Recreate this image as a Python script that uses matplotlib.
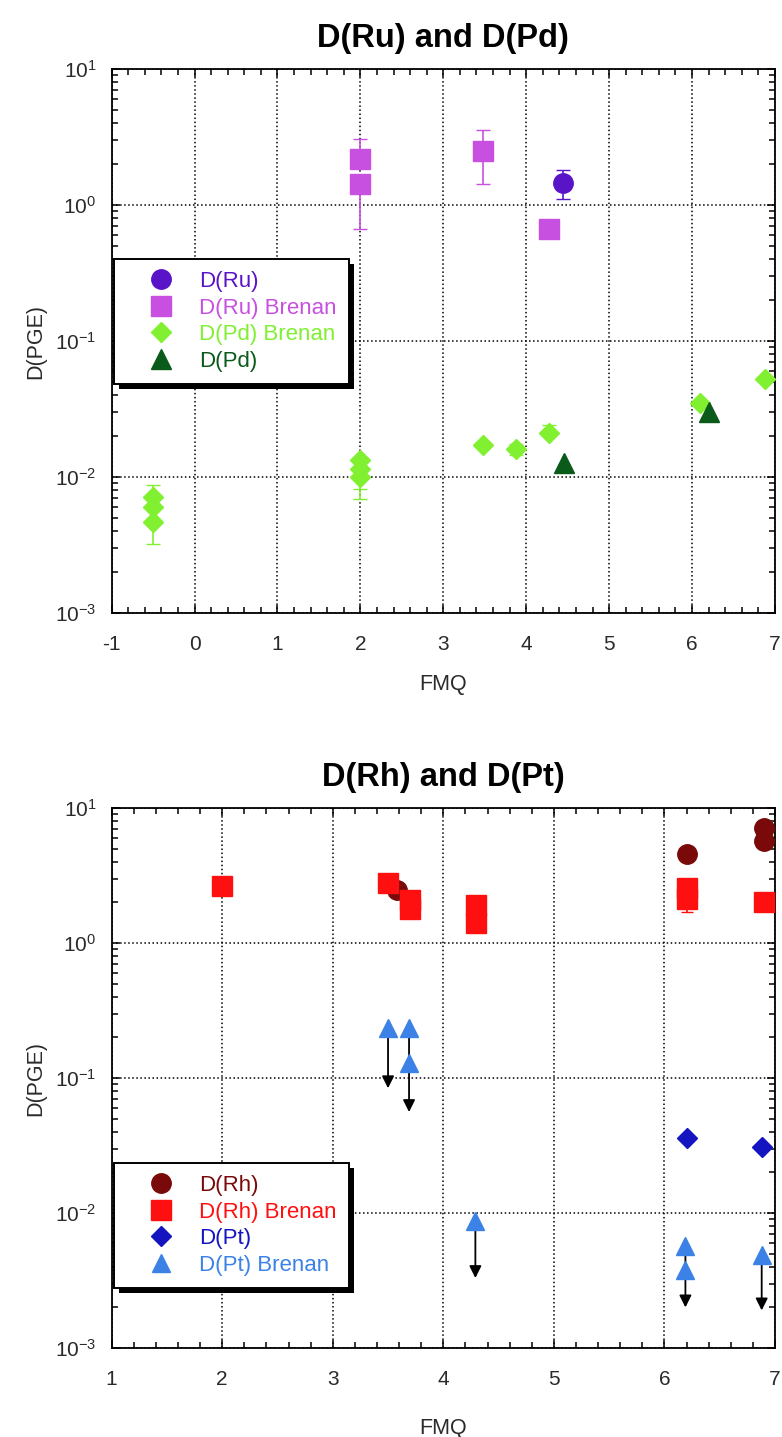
# D(PGE) vs FMQ, two log panels
import numpy as np
import matplotlib
matplotlib.use("Agg")
import matplotlib.pyplot as plt
from matplotlib.patches import Rectangle
from matplotlib.ticker import AutoMinorLocator, LogLocator

# ---- top panel: Ru and Pd ----
ru_fmq = [4.44]
ru_d = [1.44]
ru_lo = [1.11]
ru_hi = [1.80]

ru_br_fmq = [2.0, 2.0, 3.48, 4.28]
ru_br_d = [2.18, 1.42, 2.48, 0.67]
ru_br_lo = [2.18, 0.67, 1.42, 0.67]
ru_br_hi = [3.07, 1.42, 3.58, 0.67]

pd_br_fmq = [-0.5, -0.5, -0.5, 2.0, 2.0, 2.0, 3.48, 3.88, 4.28, 6.1, 6.88]
pd_br_d = [0.0071, 0.0060, 0.0047, 0.0133, 0.0115, 0.0100, 0.0171, 0.0161, 0.021, 0.035, 0.053]
pd_br_lo = [0.0071, 0.0060, 0.0032, 0.0133, 0.0081, 0.0069, 0.0171, 0.0145, 0.021, 0.035, 0.053]
pd_br_hi = [0.0088, 0.0060, 0.0047, 0.0133, 0.0115, 0.0100, 0.0171, 0.0175, 0.024, 0.035, 0.053]

pd_fmq = [4.45, 6.2]
pd_d = [0.0127, 0.030]

# ---- bottom panel: Rh and Pt ----
rh_fmq = [3.58, 6.2, 6.9, 6.9]
rh_d = [2.45, 4.6, 7.1, 5.7]

rh_br_fmq = [2.0, 3.5, 3.7, 3.7, 4.3, 4.3, 6.2, 6.2, 6.9]
rh_br_d = [2.65, 2.8, 2.1, 1.8, 1.91, 1.41, 2.54, 2.12, 2.0]
rh_br_lo = [2.65, 2.8, 2.1, 1.6, 1.91, 1.41, 2.54, 1.70, 2.0]

pt_fmq = [6.2, 6.88]
pt_d = [0.036, 0.031]

pt_br_fmq = [3.5, 3.69, 3.69, 4.29, 6.19, 6.19, 6.88]
pt_br_d = [0.236, 0.236, 0.13, 0.0088, 0.0057, 0.0038, 0.0049]

# upper limits (arrows down)
arr_fmq = [3.5, 3.69, 4.29, 6.19, 6.88]
arr_from = [0.236, 0.236, 0.0088, 0.0057, 0.0049]
arr_to = [0.084, 0.056, 0.0033, 0.0020, 0.0019]

c_ru = '#5A14C8'
c_ru_br = '#C850E0'
c_pd_br = '#80F030'
c_pd = '#0A5A1A'
c_rh = '#7A0A0A'
c_rh_br = '#FF1010'
c_pt = '#1414C0'
c_pt_br = '#3C82E6'

plt.rcParams['font.family'] = ['Liberation Sans', 'DejaVu Sans']
plt.rcParams['mathtext.default'] = 'regular'
plt.rcParams['axes.unicode_minus'] = False
txt = '#2a2a2a'

fig = plt.figure(figsize=(7.82, 14.37), dpi=100)
ax1 = fig.add_axes([0.1428, 0.5734, 0.8482, 0.3786])
ax2 = fig.add_axes([0.1428, 0.0619, 0.8482, 0.3758])


def style(ax, xmin, xmax, title, xlpad):
    ax.set_yscale('log')
    ax.set_xlim(xmin, xmax)
    ax.set_ylim(1e-3, 1e1)
    ax.set_xticks(np.arange(xmin, xmax + 1))
    ax.xaxis.set_minor_locator(AutoMinorLocator(5))
    ax.yaxis.set_major_locator(LogLocator(base=10, numticks=10))
    ax.yaxis.set_minor_locator(LogLocator(base=10, subs=np.arange(2, 10), numticks=20))
    ax.tick_params(which='both', direction='in', top=True, right=True,
                   labelsize=15, labelcolor=txt, width=1.1)
    ax.tick_params(which='major', length=6)
    ax.tick_params(axis='x', which='major', pad=16)
    ax.tick_params(axis='y', which='major', pad=11)
    ax.tick_params(which='minor', length=4)
    ax.grid(True, which='major', color='black', linestyle=':', linewidth=1.1)
    for s in ax.spines.values():
        s.set_linewidth(1.3)
    ax.set_xlabel('FMQ', fontsize=15.5, color=txt, labelpad=xlpad)
    ax.set_ylabel('D(PGE)', fontsize=15.5, color=txt, labelpad=6)
    ax.set_title(title, fontsize=23.5, fontweight='bold', pad=16)


def make_legend(ax, handles, labels, y_top, colors):
    leg = ax.legend(handles, labels, loc='upper left', bbox_to_anchor=(0.003, y_top),
                    fontsize=16, frameon=True, fancybox=False, shadow=False,
                    edgecolor='black', framealpha=1, borderpad=0.55, labelspacing=0.25,
                    handletextpad=0.15, handlelength=3.15, borderaxespad=0)
    leg.get_frame().set_linewidth(1.4)
    for t, c in zip(leg.get_texts(), colors):
        t.set_color(c)
    # solid black drop shadow, offset down-right
    fig.canvas.draw()
    bb = leg.get_window_extent()
    inv = ax.transAxes.inverted()
    (x0, y0), (x1, y1) = inv.transform([[bb.x0 + 5, bb.y0 - 5], [bb.x1 + 5, bb.y1 - 5]])
    ax.add_patch(Rectangle((x0, y0), x1 - x0, y1 - y0, transform=ax.transAxes,
                           facecolor='black', edgecolor='none', zorder=4.9, clip_on=False))
    return leg


style(ax1, -1, 7, 'D(Ru) and D(Pd)', 14.5)
style(ax2, 1, 7, 'D(Rh) and D(Pt)', 20.5)

# top panel
e_ru = ax1.errorbar(ru_fmq, ru_d,
                    yerr=[np.array(ru_d) - np.array(ru_lo), np.array(ru_hi) - np.array(ru_d)],
                    fmt='o', ms=14, color=c_ru, ecolor=c_ru, capsize=5, elinewidth=1.2, zorder=4)
e_rub = ax1.errorbar(ru_br_fmq, ru_br_d,
                     yerr=[np.array(ru_br_d) - np.array(ru_br_lo), np.array(ru_br_hi) - np.array(ru_br_d)],
                     fmt='s', ms=14, color=c_ru_br, ecolor=c_ru_br, capsize=5, elinewidth=1.2, zorder=4)
e_pdb = ax1.errorbar(pd_br_fmq, pd_br_d,
                     yerr=[np.array(pd_br_d) - np.array(pd_br_lo), np.array(pd_br_hi) - np.array(pd_br_d)],
                     fmt='D', ms=10, color=c_pd_br, ecolor=c_pd_br, capsize=5, elinewidth=1.2, zorder=4)
l_pd, = ax1.plot(pd_fmq, pd_d, '^', ms=14, color=c_pd, linestyle='none', zorder=5)

make_legend(ax1, [e_ru[0], e_rub[0], e_pdb[0], l_pd],
            ['D(Ru)', 'D(Ru) Brenan', 'D(Pd) Brenan', 'D(Pd)'],
            0.651, [c_ru, c_ru_br, c_pd_br, c_pd])

# bottom panel
l_rh, = ax2.plot(rh_fmq, rh_d, 'o', ms=14, color=c_rh, linestyle='none', zorder=3)
e_rhb = ax2.errorbar(rh_br_fmq, rh_br_d,
                     yerr=[np.array(rh_br_d) - np.array(rh_br_lo), np.zeros(len(rh_br_d))],
                     fmt='s', ms=14, color=c_rh_br, ecolor=c_rh_br, capsize=4, elinewidth=1.2, zorder=4)
l_pt, = ax2.plot(pt_fmq, pt_d, 'D', ms=10, color=c_pt, linestyle='none', zorder=4)
for x, y0, y1 in zip(arr_fmq, arr_from, arr_to):
    ax2.annotate('', xy=(x, y1), xytext=(x, y0),
                 arrowprops=dict(arrowstyle='-|>', color='black', lw=1.3,
                                 mutation_scale=18, shrinkA=0, shrinkB=0),
                 zorder=3)
l_ptb, = ax2.plot(pt_br_fmq, pt_br_d, '^', ms=13, color=c_pt_br, linestyle='none', zorder=5)

make_legend(ax2, [l_rh, e_rhb[0], l_pt, l_ptb],
            ['D(Rh)', 'D(Rh) Brenan', 'D(Pt)', 'D(Pt) Brenan'],
            0.343, [c_rh, c_rh_br, c_pt, c_pt_br])

fig.savefig('out.png', dpi=100)
